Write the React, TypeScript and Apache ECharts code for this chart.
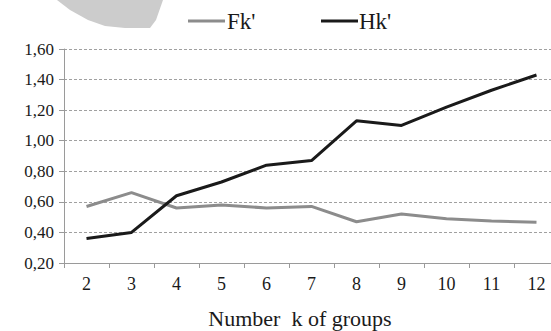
import React, { useEffect, useRef } from "react";
import * as echarts from "echarts";

const categories = ["2", "3", "4", "5", "6", "7", "8", "9", "10", "11", "12"];
const fkValues = [0.57, 0.66, 0.56, 0.58, 0.56, 0.57, 0.47, 0.52, 0.49, 0.475, 0.467];
const hkValues = [0.36, 0.40, 0.64, 0.73, 0.84, 0.87, 1.13, 1.10, 1.22, 1.33, 1.43];
const seriesNames = ["Fk'", "Hk'"];
const xTitle = "Number  k of groups";

const FONT = "Liberation Serif";

export default function App() {
  const ref = useRef<HTMLDivElement>(null);
  useEffect(() => {
    if (!ref.current) return;
    const chart = echarts.init(ref.current, undefined, { renderer: "svg" });
    chart.setOption({
      animation: false,
      backgroundColor: "#ffffff",
      grid: { left: 64, top: 49, height: 214, width: 495, outerBoundsMode: "none", containLabel: false },
      legend: { show: false },
      graphic: [
        {
          type: "polygon",
          shape: {
            points: [
              [57, 0], [70, 10], [88, 20], [105, 26], [125, 28], [150, 28], [156, 20], [163, 0],
            ],
          },
          style: { fill: "#cccccc" },
        },
        { type: "line", shape: { x1: 188, y1: 21, x2: 225, y2: 21 }, style: { stroke: "#8c8c8c", lineWidth: 3 } },
        { type: "text", x: 227, y: 21, style: { text: seriesNames[0], fontFamily: FONT, fontSize: 23, fill: "#1a1a1a", verticalAlign: "middle" } },
        { type: "line", shape: { x1: 321, y1: 21, x2: 358, y2: 21 }, style: { stroke: "#1a1a1a", lineWidth: 3 } },
        { type: "text", x: 359, y: 21, style: { text: seriesNames[1], fontFamily: FONT, fontSize: 23, fill: "#1a1a1a", verticalAlign: "middle" } },
        { type: "text", x: 300, y: 318, style: { text: xTitle, fontFamily: FONT, fontSize: 22, fill: "#1a1a1a", align: "center", verticalAlign: "middle" } },
      ],
      xAxis: {
        type: "category",
        data: categories,
        boundaryGap: true,
        axisLine: { lineStyle: { color: "#9a9a9a", width: 1 } },
        axisTick: { show: true, length: 5, lineStyle: { color: "#9a9a9a" } },
        axisLabel: { color: "#1a1a1a", fontFamily: FONT, fontSize: 18, margin: 12 },
      },
      yAxis: {
        type: "value",
        min: 0.2,
        max: 1.6,
        interval: 0.2,
        axisLine: { show: true, lineStyle: { color: "#9a9a9a", width: 1 } },
        axisTick: { show: true, length: 5, lineStyle: { color: "#9a9a9a" } },
        axisLabel: {
          color: "#1a1a1a",
          fontFamily: FONT,
          fontSize: 17,
          margin: 10,
          formatter: (v: number) => v.toFixed(2).replace(".", ","),
        },
        splitLine: { show: true, lineStyle: { color: "#a0a0a0", type: [3, 2], width: 1 } },
      },
      series: [
        {
          name: seriesNames[0],
          type: "line",
          data: fkValues,
          symbol: "none",
          lineStyle: { color: "#8c8c8c", width: 3 },
          z: 3,
        },
        {
          name: seriesNames[1],
          type: "line",
          data: hkValues,
          symbol: "none",
          lineStyle: { color: "#1a1a1a", width: 3 },
          z: 4,
        },
      ],
    });
    return () => chart.dispose();
  }, []);
  return <div ref={ref} style={{ width: 551, height: 331, position: "absolute", left: 0, top: 0 }} />;
}
